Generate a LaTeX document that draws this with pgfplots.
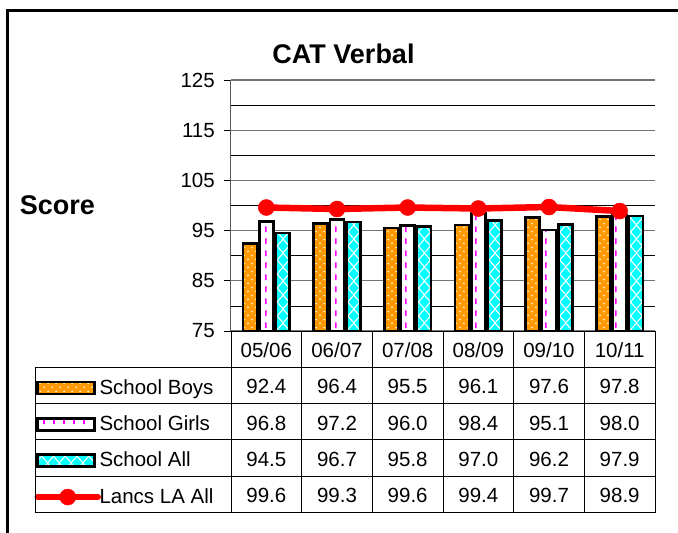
\documentclass[border=0pt]{standalone}
\usepackage{pgfplots}
\pgfplotsset{compat=1.18}
\usepackage{pgfplotstable}
\usetikzlibrary{patterns.meta}
\usepackage{fontspec}
\setmainfont{Liberation Sans}

\definecolor{boysorange}{HTML}{FF9900}
\definecolor{girlsmag}{HTML}{FF00FF}
\definecolor{allcyan}{HTML}{00FFFF}
\definecolor{lancsred}{HTML}{FF0000}

% fill patterns of the three bar series (tile widths divide the category width,
% so each bar shows the same phase)
\tikzdeclarepattern{
  name=boysdots, type=colored,
  bottom left={(0pt,0pt)}, top right={(7.852pt,8pt)}, tile size={(7.852pt,8pt)},
  code={
    \fill[white] (5.13pt,2pt) circle (0.9pt);
    \fill[white] (1.2pt,6pt) circle (0.9pt);
  }
}
\tikzdeclarepattern{
  name=girlsdash, type=colored,
  bottom left={(0pt,0pt)}, top right={(10.0953pt,12pt)}, tile size={(10.0953pt,12pt)},
  code={
    \draw[girlsmag, line width=1.7pt] (4.32pt,1pt) -- (4.32pt,7pt);
  }
}
\tikzdeclarepattern{
  name=alldiamond, type=colored,
  bottom left={(-5.459pt,0pt)}, top right={(6.319pt,14pt)}, tile size={(11.778pt,14pt)},
  code={
    \fill[allcyan] (0.43pt,1.2pt) -- (5.5pt,7pt) -- (0.43pt,12.8pt) -- (-4.64pt,7pt) -- cycle;
    \foreach \cx/\cy in {-5.459/0,6.319/0,-5.459/14,6.319/14}
      \fill[allcyan] (\cx pt,\cy pt-5.8pt) -- (\cx pt+5.07pt,\cy pt) -- (\cx pt,\cy pt+5.8pt) -- (\cx pt-5.07pt,\cy pt) -- cycle;
  }
}

\pgfplotstableread{
idx Boys Girls All Lancs
0 92.4 96.8 94.5 99.6
1 96.4 97.2 96.7 99.3
2 95.5 96.0 95.8 99.6
3 96.1 98.4 97.0 99.4
4 97.6 95.1 96.2 99.7
5 97.8 98.0 97.9 98.9
}\scores

\newcommand\tabfont{\fontsize{20.5}{24}\selectfont}
\newcommand\bigfont{\fontsize{27}{32}\selectfont\bfseries}

\pgfplotsset{
  cellvals/.style={forget plot, draw=none, mark=none, point meta=explicit,
    nodes near coords={\pgfmathprintnumber[fixed,fixed zerofill,precision=1]{\pgfplotspointmeta}},
    every node near coord/.append style={font=\tabfont, anchor=base, inner sep=0pt}},
  barkey/.style={legend image code/.code={\draw[##1] (0pt,-6pt) rectangle (57pt,6pt);}},
  linekey/.style={legend image code/.code={\draw[mark repeat=2, mark phase=2, ##1] plot coordinates {(0pt,0pt) (30pt,0pt) (60pt,0pt)};}},
}

\begin{document}
\begin{tikzpicture}
\useasboundingbox (0pt,0pt) rectangle (678pt,-533pt);
\draw[line width=3pt] (7.5pt,-533pt) -- (7.5pt,-10.5pt) -- (678pt,-10.5pt);

\begin{axis}[
  at={(231pt,-331pt)}, anchor=south west,
  scale only axis, width=424pt, height=251pt,
  xmin=-0.5, xmax=5.5, ymin=75, ymax=125,
  clip=false,
  axis lines*=left,
  x axis line style={black, line width=1pt},
  y axis line style={black!65, line width=1pt},
  xtick={0,...,5}, xticklabels={05/06,06/07,07/08,08/09,09/10,10/11},
  xtick style={draw=none},
  xticklabel style={font=\tabfont, anchor=base, yshift=-19.5pt},
  ytick={75,85,...,125}, minor ytick={80,90,...,120},
  ymajorgrids, yminorgrids,
  major grid style={black!55, line width=1.1pt},
  minor grid style={black, line width=0.7pt},
  tick align=outside, major tick length=7pt, minor tick length=0pt,
  ytick style={black, line width=0.8pt},
  yticklabel style={font=\tabfont, inner sep=0pt, xshift=-9pt},
  /pgf/number format/assume math mode=true,
  title={CAT Verbal},
  every axis title/.style={font=\bigfont, at={(axis description cs:0.2653,1.0665)}, anchor=base},
  ylabel={Score},
  every axis y label/.style={font=\bigfont, at={(axis description cs:-0.4097,0.4622)}, anchor=base},
  legend cell align=left,
  legend style={at={(axis description cs:-0.4634,-0.1554)}, anchor=north west,
    draw=none, fill=none, inner sep=0pt, outer sep=0pt, row sep=0pt, column sep=-1.5pt,
    font=\tabfont, nodes={inner sep=0pt, text height=18pt, text depth=6pt, minimum height=36.3pt}},
]
\addplot[ybar, bar width=14pt, bar shift=-16.3pt, draw=black, line width=2.6pt,
  preaction={fill=boysorange}, pattern=boysdots, barkey]
  table[x=idx, y=Boys]{\scores};
\addlegendentry{School Boys}
\addplot[ybar, bar width=14pt, bar shift=0pt, draw=black, line width=2.6pt,
  preaction={fill=white}, pattern=girlsdash, barkey]
  table[x=idx, y=Girls]{\scores};
\addlegendentry{School Girls}
\addplot[ybar, bar width=14pt, bar shift=16.3pt, draw=black, line width=2.6pt,
  preaction={fill=white}, pattern=alldiamond, barkey]
  table[x=idx, y=All]{\scores};
\addlegendentry{School All}
\addplot[lancsred, line width=6.5pt, line cap=round, mark=*, mark size=8pt,
  mark options={solid, fill=lancsred, draw=lancsred, line width=0.5pt}, linekey]
  table[x=idx, y=Lancs]{\scores};
\addlegendentry{Lancs LA All}

% values of the data table under the chart
\addplot[cellvals] table[x=idx, y expr=62.49, meta=Boys]{\scores};
\addplot[cellvals] table[x=idx, y expr=55.26, meta=Girls]{\scores};
\addplot[cellvals] table[x=idx, y expr=48.03, meta=All]{\scores};
\addplot[cellvals] table[x=idx, y expr=40.80, meta=Lancs]{\scores};
\end{axis}

% table rules
\foreach \r in {1,...,5}
  \draw[black, line width=1pt] (35pt,-331pt-\r*36.3pt) -- (655pt,-331pt-\r*36.3pt);
\draw[black, line width=1pt] (35pt,-367.3pt) -- (35pt,-512.5pt);
\foreach \c in {0,...,6}
  \draw[black, line width=1pt] (231pt+\c*70.667pt,-331pt) -- (231pt+\c*70.667pt,-512.5pt);
\end{tikzpicture}
\end{document}
